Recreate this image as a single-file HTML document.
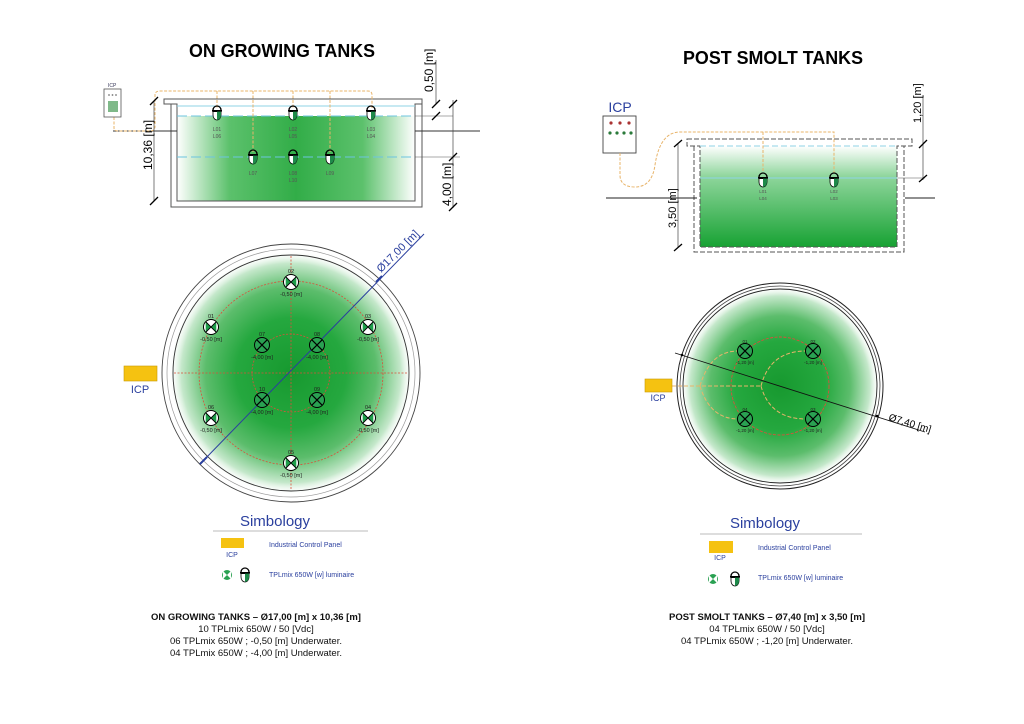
<!DOCTYPE html>
<html><head><meta charset="utf-8"><style>
html,body{margin:0;padding:0;background:#fff;}
svg{display:block;font-family:"Liberation Sans",sans-serif;}
</style></head><body>
<svg width="1024" height="724" viewBox="0 0 1024 724" xmlns="http://www.w3.org/2000/svg">
<defs>
<radialGradient id="gc" cx="50%" cy="50%" r="50%">
<stop offset="0" stop-color="#17992f"/><stop offset="0.45" stop-color="#25a83f"/><stop offset="0.7" stop-color="#5cbd6c"/><stop offset="0.9" stop-color="#c5e8cb"/><stop offset="1" stop-color="#fff" stop-opacity="0"/>
</radialGradient>
<linearGradient id="gs" x1="0" y1="0" x2="0" y2="1">
<stop offset="0" stop-color="#fff"/><stop offset="0.3" stop-color="#8fd69c"/><stop offset="1" stop-color="#17a233"/>
</linearGradient>
<linearGradient id="gl" x1="0" y1="0" x2="1" y2="0">
<stop offset="0" stop-color="#fff"/><stop offset="0.22" stop-color="#5cc16c"/><stop offset="0.5" stop-color="#32ad48"/><stop offset="0.78" stop-color="#5cc16c"/><stop offset="1" stop-color="#fff"/>
</linearGradient>
<g id="lx"><circle r="7.5" fill="#fff" stroke="#000" stroke-width="1"/><path d="M-5.3,-5.3 L0,0 L-5.3,5.3 Z M5.3,-5.3 L0,0 L5.3,5.3Z" fill="#1e9e4a"/><path d="M-5.3,-5.3L5.3,5.3M5.3,-5.3L-5.3,5.3" stroke="#000" stroke-width="1"/></g>
<g id="lc"><circle r="7.5" fill="#2aa152" stroke="#000" stroke-width="1"/><path d="M-5.3,-5.3L5.3,5.3M5.3,-5.3L-5.3,5.3" stroke="#000" stroke-width="1.2"/></g>
<g id="ls"><path d="M-4,-3 A4,4 0 0 1 4,-3" fill="none" stroke="#000" stroke-width="1.3"/><rect x="-5" y="-3" width="10" height="1.6" fill="#000"/><path d="M-4,-1.4 L4,-1.4 L4,2 A4,5 0 0 1 -4,2 Z" fill="#fff" stroke="#000" stroke-width="0.8"/><path d="M0,-1.4 L4,-1.4 L4,2 A4,5 0 0 1 0,7 Z" fill="#1e8a4a"/></g>
</defs>

<text x="189" y="57" font-size="18" font-weight="bold" textLength="186" lengthAdjust="spacingAndGlyphs">ON GROWING TANKS</text>

<rect x="177" y="116" width="238" height="85" fill="url(#gl)"/>
<path d="M164,99 H422 V104 H415 V201 H177 V104 H164 Z" fill="none" stroke="#555" stroke-width="1"/>
<path d="M171,104 V207 H422 V104" fill="none" stroke="#555" stroke-width="1"/>
<line x1="177" y1="106" x2="415" y2="106" stroke="#8fd3e6" stroke-width="1"/>
<line x1="177" y1="116" x2="415" y2="116" stroke="#6cc4df" stroke-width="1" stroke-dasharray="10,4"/>
<line x1="177" y1="157" x2="415" y2="157" stroke="#6cc4df" stroke-width="1" stroke-dasharray="10,4"/>
<line x1="113" y1="131" x2="177" y2="131" stroke="#333"/>
<line x1="415" y1="131" x2="480" y2="131" stroke="#333"/>
<line x1="415" y1="116" x2="453" y2="116" stroke="#555" stroke-width="0.6"/>
<line x1="415" y1="157" x2="460" y2="157" stroke="#555" stroke-width="0.6"/>
<g fill="none" stroke="#e8b46a" stroke-width="1" stroke-dasharray="3,1.5">
<path d="M114,117 V128 Q114,131 118,131 H150 Q155,131 155,126 V95 Q155,91 160,91 H368 Q372,91 372,95 V108"/>
<path d="M217,91 V108 M253,91 V152 M293,91 V108 M330,91 V152"/>
</g>
<g fill="#555" font-size="5" text-anchor="middle">
<use href="#ls" x="217" y="113"/><text x="217" y="131">L01</text><text x="217" y="138">L06</text>
<use href="#ls" x="293" y="113"/><text x="293" y="131">L02</text><text x="293" y="138">L05</text>
<use href="#ls" x="371" y="113"/><text x="371" y="131">L03</text><text x="371" y="138">L04</text>
<use href="#ls" x="253" y="157"/><text x="253" y="175">L07</text>
<use href="#ls" x="293" y="157"/><text x="293" y="175">L08</text><text x="293" y="182">L10</text>
<use href="#ls" x="330" y="157"/><text x="330" y="175">L09</text>
</g>
<text x="108" y="87" font-size="5" fill="#335">ICP</text>
<rect x="104" y="89" width="17" height="28" fill="#fff" stroke="#555" stroke-width="0.8"/>
<g fill="#777"><circle cx="109" cy="95" r="0.9"/><circle cx="112.5" cy="95" r="0.9"/><circle cx="116" cy="95" r="0.9"/></g>
<g fill="#2a8a3a"><rect x="108" y="101" width="10" height="11" opacity="0.6"/></g>
<line x1="154" y1="101" x2="154" y2="201" stroke="#444" stroke-width="0.7"/>
<path d="M150,105 L158,97 M150,205 L158,197" stroke="#000" stroke-width="1.3"/>
<text transform="translate(152,170) rotate(-90)" font-size="12">10,36 [m]</text>
<line x1="453" y1="100" x2="453" y2="208" stroke="#444" stroke-width="0.7"/>
<line x1="436" y1="60" x2="436" y2="104" stroke="#444" stroke-width="0.7"/>
<path d="M432,108 L440,100 M432,120 L440,112 M449,108 L457,100 M449,161 L457,153 M449,211 L457,203" stroke="#000" stroke-width="1.3"/>
<text transform="translate(433,92) rotate(-90)" font-size="12">0,50 [m]</text>
<text transform="translate(451,206) rotate(-90)" font-size="12">4,00 [m]</text>

<circle cx="291" cy="373" r="122" fill="url(#gc)"/>
<circle cx="291" cy="373" r="129" fill="none" stroke="#444" stroke-width="0.9"/>
<circle cx="291" cy="373" r="124" fill="none" stroke="#999" stroke-width="0.7"/>
<circle cx="291" cy="373" r="118" fill="none" stroke="#333" stroke-width="0.9"/>
<g fill="none" stroke="#d9503a" stroke-width="0.8" stroke-dasharray="2,1.5">
<circle cx="291" cy="373" r="92"/><circle cx="291" cy="373" r="39"/>
<line x1="174" y1="373" x2="408" y2="373"/><line x1="291" y1="256" x2="291" y2="490"/>
</g>
<line x1="203" y1="461" x2="424" y2="234" stroke="#2a3f9e" stroke-width="1"/>
<path d="M200,464 L207,457 M376,282 L382,276" stroke="#2a3f9e" stroke-width="2"/>
<text transform="translate(381,273) rotate(-45)" font-size="11" fill="#2a3f9e">Ø17,00 [m]</text>
<g font-size="5.5" fill="#222" text-anchor="middle">
<use href="#lx" x="291" y="282"/><text x="291" y="273">02</text><text x="291" y="296">-0,50 [m]</text>
<use href="#lx" x="211" y="327"/><text x="211" y="318">01</text><text x="211" y="341">-0,50 [m]</text>
<use href="#lx" x="368" y="327"/><text x="368" y="318">03</text><text x="368" y="341">-0,50 [m]</text>
<use href="#lx" x="211" y="418"/><text x="211" y="409">06</text><text x="211" y="432">-0,50 [m]</text>
<use href="#lx" x="368" y="418"/><text x="368" y="409">04</text><text x="368" y="432">-0,50 [m]</text>
<use href="#lx" x="291" y="463"/><text x="291" y="454">05</text><text x="291" y="477">-0,50 [m]</text>
<use href="#lc" x="262" y="345"/><text x="262" y="336">07</text><text x="262" y="359">-4,00 [m]</text>
<use href="#lc" x="317" y="345"/><text x="317" y="336">08</text><text x="317" y="359">-4,00 [m]</text>
<use href="#lc" x="262" y="400"/><text x="262" y="391">10</text><text x="262" y="414">-4,00 [m]</text>
<use href="#lc" x="317" y="400"/><text x="317" y="391">09</text><text x="317" y="414">-4,00 [m]</text>
</g>
<rect x="124" y="366" width="33" height="15" fill="#f5c211" stroke="#c99a00" stroke-width="0.6"/>
<text x="140" y="393" font-size="11" fill="#2a3f9e" text-anchor="middle">ICP</text>

<text x="275" y="526" font-size="15" fill="#2a3f9e" text-anchor="middle">Simbology</text>
<line x1="213" y1="531" x2="368" y2="531" stroke="#bbb" stroke-width="1"/>
<rect x="221" y="538" width="23" height="10" fill="#f5c211"/>
<text x="232" y="557" font-size="7" fill="#2a3f9e" text-anchor="middle">ICP</text>
<text x="269" y="547" font-size="7" fill="#2a3f9e">Industrial Control Panel</text>
<circle cx="227" cy="575" r="5" fill="#2aa152"/><path d="M223,571 L227,575 L223,579Z M231,571 L227,575 L231,579Z" fill="#fff"/>
<use href="#ls" x="245" y="575"/>
<text x="269" y="577" font-size="7" fill="#2a3f9e">TPLmix 650W [w] luminaire</text>
<g font-size="9.5" text-anchor="middle" fill="#111">
<text x="256" y="620" font-weight="bold">ON GROWING TANKS – Ø17,00 [m] x 10,36 [m]</text>
<text x="256" y="632">10 TPLmix 650W / 50 [Vdc]</text>
<text x="256" y="644">06 TPLmix 650W ; -0,50 [m] Underwater.</text>
<text x="256" y="656">04 TPLmix 650W ; -4,00 [m] Underwater.</text>
</g>

<text x="683" y="64" font-size="18" font-weight="bold" textLength="180" lengthAdjust="spacingAndGlyphs">POST SMOLT TANKS</text>

<rect x="700" y="146" width="197" height="101" fill="url(#gs)"/>
<path d="M687,139 H912 V146 H897 V247 H700 V146 H687 Z" fill="none" stroke="#555" stroke-width="1" stroke-dasharray="5,2"/>
<path d="M694,146 V252 H904 V146" fill="none" stroke="#555" stroke-width="1" stroke-dasharray="5,2"/>
<line x1="700" y1="146" x2="897" y2="146" stroke="#8fd3e6" stroke-dasharray="6,3"/>
<line x1="700" y1="178" x2="897" y2="178" stroke="#8fd3e6"/>
<line x1="897" y1="178" x2="925" y2="178" stroke="#555" stroke-width="0.6"/>
<line x1="606" y1="198" x2="697" y2="198" stroke="#222"/>
<line x1="905" y1="198" x2="935" y2="198" stroke="#222"/>
<text x="620" y="112" font-size="14" fill="#2a3f9e" text-anchor="middle">ICP</text>
<rect x="603" y="116" width="33" height="37" fill="#fff" stroke="#444" stroke-width="0.9"/>
<g fill="#a33"><circle cx="611" cy="123" r="1.6"/><circle cx="620" cy="123" r="1.6"/><circle cx="629" cy="123" r="1.6"/></g>
<g fill="#2a7a3a"><circle cx="610" cy="133" r="1.6"/><circle cx="617" cy="133" r="1.6"/><circle cx="624" cy="133" r="1.6"/><circle cx="631" cy="133" r="1.6"/></g>
<path d="M620,153 V175 Q620,187 635,187 Q652,187 655,165 Q660,132 680,132 H834 V173 M763,132 V173" fill="none" stroke="#e8b46a" stroke-width="1" stroke-dasharray="3,1.5"/>
<g font-size="4.5" fill="#555" text-anchor="middle">
<use href="#ls" x="763" y="180"/><text x="763" y="193">L01</text><text x="763" y="200">L04</text>
<use href="#ls" x="834" y="180"/><text x="834" y="193">L02</text><text x="834" y="200">L03</text>
</g>
<line x1="678" y1="144" x2="678" y2="247" stroke="#444" stroke-width="0.7"/>
<path d="M674,147 L682,140 M674,251 L682,244" stroke="#000" stroke-width="1.3"/>
<text transform="translate(676,228) rotate(-90)" font-size="11">3,50 [m]</text>
<line x1="923" y1="95" x2="923" y2="180" stroke="#444" stroke-width="0.7"/>
<path d="M919,148 L927,140 M919,182 L927,175" stroke="#000" stroke-width="1.3"/>
<text transform="translate(921,123) rotate(-90)" font-size="11">1,20 [m]</text>

<circle cx="780" cy="386" r="100" fill="url(#gc)"/>
<circle cx="780" cy="386" r="103" fill="none" stroke="#222" stroke-width="1"/>
<circle cx="780" cy="386" r="100" fill="none" stroke="#444" stroke-width="0.8"/>
<circle cx="780" cy="386" r="97" fill="none" stroke="#222" stroke-width="0.9"/>
<circle cx="780" cy="386" r="49" fill="none" stroke="#d9503a" stroke-width="0.9" stroke-dasharray="3,1.5"/>
<g fill="none" stroke="#e8b46a" stroke-width="1" stroke-dasharray="4,2">
<path d="M672,386 H761 M700,386 Q710,351 738,351 M700,386 Q710,419 738,419 M761,386 Q770,351 806,351 M761,386 Q770,419 806,419"/>
</g>
<line x1="675" y1="353" x2="925" y2="432" stroke="#111" stroke-width="0.9"/>
<circle cx="682" cy="355" r="1.3" fill="#000"/><circle cx="877" cy="416" r="1.3" fill="#000"/>
<text transform="translate(888,420) rotate(17)" font-size="10">Ø7,40 [m]</text>
<g font-size="4.5" fill="#222" text-anchor="middle">
<use href="#lc" x="745" y="351"/><text x="745" y="343">01</text><text x="745" y="364">-1,20 [m]</text>
<use href="#lc" x="813" y="351"/><text x="813" y="343">02</text><text x="813" y="364">-1,20 [m]</text>
<use href="#lc" x="745" y="419"/><text x="745" y="411">04</text><text x="745" y="432">-1,20 [m]</text>
<use href="#lc" x="813" y="419"/><text x="813" y="411">03</text><text x="813" y="432">-1,20 [m]</text>
</g>
<rect x="645" y="379" width="27" height="13" fill="#f5c211" stroke="#c99a00" stroke-width="0.6"/>
<text x="658" y="401" font-size="9" fill="#2a3f9e" text-anchor="middle">ICP</text>

<text x="765" y="528" font-size="15" fill="#2a3f9e" text-anchor="middle">Simbology</text>
<line x1="700" y1="534" x2="862" y2="534" stroke="#bbb" stroke-width="1"/>
<rect x="709" y="541" width="24" height="12" fill="#f5c211"/>
<text x="720" y="560" font-size="7" fill="#2a3f9e" text-anchor="middle">ICP</text>
<text x="758" y="550" font-size="7" fill="#2a3f9e">Industrial Control Panel</text>
<circle cx="713" cy="579" r="5" fill="#2aa152"/><path d="M709,575 L713,579 L709,583Z M717,575 L713,579 L717,583Z" fill="#fff"/>
<use href="#ls" x="735" y="579"/>
<text x="758" y="580" font-size="7" fill="#2a3f9e">TPLmix 650W [w] luminaire</text>
<g font-size="9.5" text-anchor="middle" fill="#111">
<text x="767" y="620" font-weight="bold">POST SMOLT TANKS – Ø7,40 [m] x 3,50 [m]</text>
<text x="767" y="632">04 TPLmix 650W / 50 [Vdc]</text>
<text x="767" y="644">04 TPLmix 650W ; -1,20 [m] Underwater.</text>
</g>
</svg>
</body></html>
